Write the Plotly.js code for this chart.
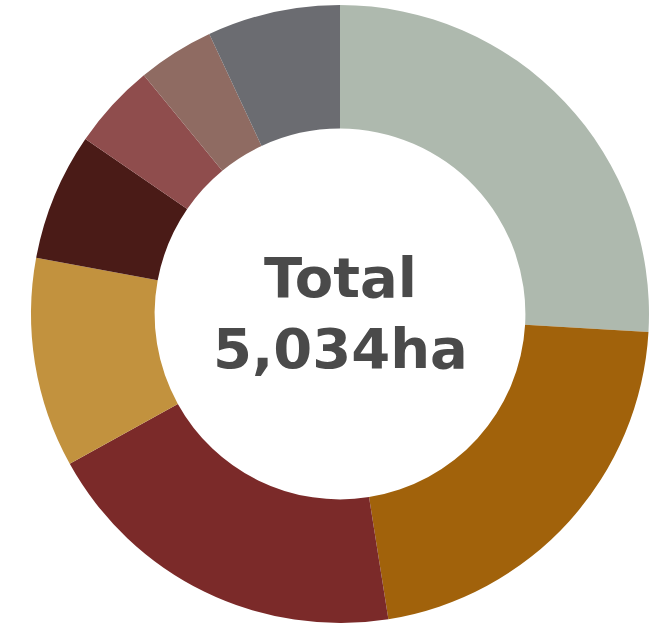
<!DOCTYPE html>
<html>
<head>
<meta charset="utf-8">
<script src="https://cdn.plot.ly/plotly-3.0.1.min.js"></script>
<style>
html,body{margin:0;padding:0;background:#fff;}
#chart{width:664px;height:627px;}
</style>
</head>
<body>
<div id="chart"></div>
<script>
// Land area by category (ha), read clockwise from 12 o'clock
var categories = ["Category 1","Category 2","Category 3","Category 4","Category 5","Category 6","Category 7","Category 8"];
var areaHa = [1305, 1086, 979, 552, 336, 225, 201, 350];
var sliceColors = ["#AEB9AE","#A1620B","#7B2A29","#C2923E","#4A1B17","#8F4D4D","#8F6B62","#6B6C71"];
var centerLines = ["Total", "5,034ha"];

var trace = {
  type: "pie",
  labels: categories,
  values: areaHa,
  sort: false,
  direction: "clockwise",
  rotation: 0,
  hole: 0.6,
  textinfo: "none",
  hoverinfo: "none",
  marker: {colors: sliceColors, line: {width: 0}},
  domain: {x: [31/664, 649/664], y: [4/627, 622/627]}
};

var layout = {
  width: 664,
  height: 627,
  margin: {l: 0, r: 0, t: 0, b: 0},
  showlegend: false,
  paper_bgcolor: "#ffffff",
  annotations: [
    {text: centerLines[0], x: 340/664, y: 1 - 278/627, xref: "paper", yref: "paper",
     xanchor: "center", yanchor: "middle", showarrow: false,
     font: {family: "DejaVu Sans", size: 56, color: "#4A4A4A", weight: "bold"}},
    {text: centerLines[1], x: 340/664, y: 1 - 348/627, xref: "paper", yref: "paper",
     xanchor: "center", yanchor: "middle", showarrow: false,
     font: {family: "DejaVu Sans", size: 56, color: "#4A4A4A", weight: "bold"}}
  ]
};

Plotly.newPlot("chart", [trace], layout, {staticPlot: true, displayModeBar: false});
</script>
</body>
</html>
